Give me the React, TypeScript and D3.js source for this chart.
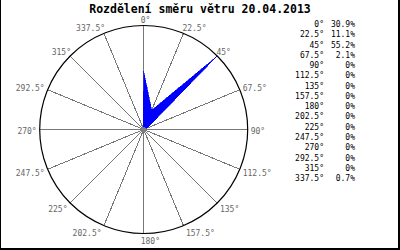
import React from "react";
import * as d3 from "d3";

const title = "Rozdělení směru větru 20.04.2013";
const directions = [0, 22.5, 45, 67.5, 90, 112.5, 135, 157.5, 180, 202.5, 225, 247.5, 270, 292.5, 315, 337.5];
const percents = [30.9, 11.1, 55.2, 2.1, 0, 0, 0, 0, 0, 0, 0, 0, 0, 0, 0, 0.7];

const W = 400;
const H = 250;
const cx = 143.7;
const cy = 129.5;
const R = 104;

export default function App() {
  const rScale = d3.scaleLinear().domain([0, d3.max(percents) as number]).range([0, R]);
  const toRad = (deg: number) => (deg * Math.PI) / 180;
  const radial = d3
    .lineRadial<number>()
    .angle((_, i) => toRad(directions[i]))
    .radius((d) => rScale(d))
    .curve(d3.curveLinearClosed);
  const polyPath = radial(percents) || "";

  const fmtAngle = (d: number) => `${d}°`;
  const fmtPct = (v: number) => `${v}%`;

  return (
    <svg
      width={W}
      height={H}
      style={{ position: "absolute", left: 0, top: 0, background: "#fff" }}
      fontFamily="'DejaVu Sans Mono', monospace"
    >
      <rect x={0} y={0} width={W} height={H} fill="#fff" />
      {/* border */}
      <rect x={0} y={0} width={1} height={H} fill="#000" />
      <rect x={398} y={0} width={2} height={H} fill="#000" />
      <rect x={0} y={248} width={W} height={2} fill="#000" />

      <text x={200} y={13} textAnchor="middle" fontSize={11.5} fontWeight="bold" fill="#000">
        {title}
      </text>

      <g transform={`translate(${cx},${cy})`}>
        {directions.map((d, i) => {
          const a = toRad(d);
          return (
            <line
              key={i}
              x1={0}
              y1={0}
              x2={R * Math.sin(a)}
              y2={-R * Math.cos(a)}
              stroke="#777"
              strokeWidth={1}
              shapeRendering="crispEdges"
            />
          );
        })}
        <circle r={R} fill="none" stroke="#000" strokeWidth={1.2} />
        <path d={polyPath} fill="#0000ff" stroke="#0000ff" strokeWidth={0.6} shapeRendering="crispEdges" />
        <circle r={2.5} fill="#808080" />
      </g>

      {directions.map((d, i) => {
        const a = toRad(d);
        const s = Math.sin(a);
        const c = Math.cos(a);
        const px = cx + (R + 1) * s;
        const py = cy - (R + 1) * c;
        let anchor: "start" | "end" = "start";
        let x = px - 3;
        const offX = c > 0.5 ? -1.5 : 2;
        if (s > 0.01) {
          x = px + offX;
        } else if (s < -0.01) {
          anchor = "end";
          x = px - offX;
        }
        const y = py + 4 - 5.5 * c;
        return (
          <text key={i} x={x} y={y} textAnchor={anchor} fontSize={8} fill="#666">
            {fmtAngle(d)}
          </text>
        );
      })}

      {directions.map((d, i) => (
        <g key={i}>
          <text x={324} y={27 + i * 10.27} textAnchor="end" fontSize={8} fill="#000">
            {fmtAngle(d)}
          </text>
          <text x={355} y={27 + i * 10.27} textAnchor="end" fontSize={8} fill="#000">
            {fmtPct(percents[i])}
          </text>
        </g>
      ))}
    </svg>
  );
}
